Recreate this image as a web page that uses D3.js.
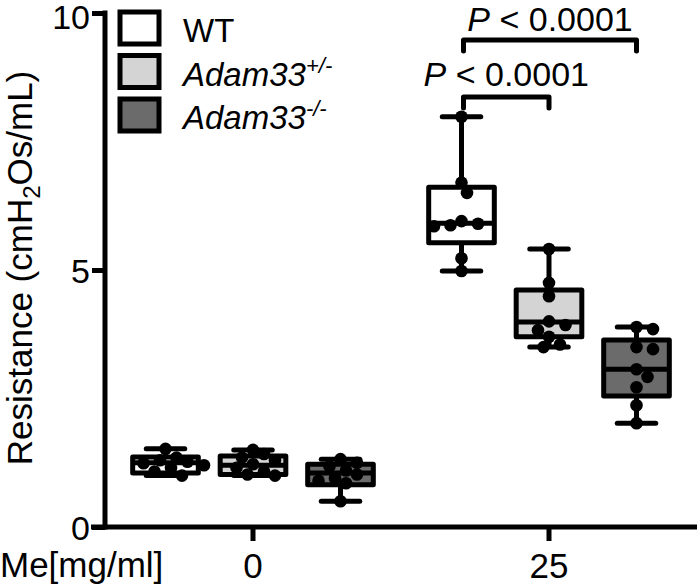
<!DOCTYPE html>
<html>
<head>
<meta charset="utf-8">
<script src="https://cdn.jsdelivr.net/npm/d3@7"></script>
<style>
  body { margin: 0; background: #fff; }
  text { font-family: "Liberation Sans", Arial, sans-serif; fill: #000; }
</style>
</head>
<body>
<div id="chart"></div>
<script>
// doses on the x axis and the three genotypes
var doses = ["0", "25"];
var groups = ["WT", "het", "ko"];
var groupFill = ["#ffffff", "#d4d4d4", "#6b6b6b"];
var yTicks = [0, 5, 10];

// box stats per dose: [min, q1, median, q3, max]
var boxWT  = [[1.00, 1.05, 1.25, 1.36, 1.52], [4.98, 5.53, 5.91, 6.61, 7.98]];
var boxHet = [[1.00, 1.02, 1.20, 1.38, 1.50], [3.50, 3.70, 3.99, 4.61, 5.41]];
var boxKO  = [[0.50, 0.82, 1.05, 1.22, 1.32], [2.02, 2.55, 3.07, 3.64, 3.89]];

// individual animals per dose
var ptsWT  = [[1.52, 1.35, 1.30, 1.27, 1.24, 1.20, 1.15, 1.08, 1.00],
              [7.98, 6.70, 6.50, 5.95, 5.90, 5.87, 5.85, 5.23, 4.98]];
var ptsHet = [[1.50, 1.42, 1.35, 1.30, 1.22, 1.15, 1.08, 1.02, 1.00],
              [5.41, 4.75, 4.49, 4.00, 3.93, 3.83, 3.70, 3.55, 3.50]];
var ptsKO  = [[1.32, 1.25, 1.18, 1.10, 1.02, 0.95, 0.90, 0.85, 0.50],
              [3.89, 3.50, 3.46, 3.07, 2.92, 2.72, 2.37, 2.02, 3.85]];

var boxes = [boxWT, boxHet, boxKO];
var points = [ptsWT, ptsHet, ptsKO];

var width = 697, height = 586;
var margin = {top: 13, right: 0, bottom: 59, left: 105};

var svg = d3.select("#chart").append("svg")
    .attr("width", width)
    .attr("height", height);

var x = d3.scaleBand().domain(doses).range([margin.left, width - margin.right]);
var xg = d3.scaleBand().domain(groups)
    .range([x.bandwidth() / 2 - 131.25, x.bandwidth() / 2 + 131.25]);
var y = d3.scaleLinear().domain([0, 10]).range([height - margin.bottom, margin.top]);

var boxW = xg.bandwidth() * 0.75;
var capW = xg.bandwidth() * 0.44;
var r = 6.3;

// y axis
var yAxis = svg.append("g")
    .attr("transform", "translate(" + margin.left + ",0)")
    .call(d3.axisLeft(y).tickValues(yTicks).tickSize(13).tickPadding(2));
yAxis.select(".domain").remove();
yAxis.append("line")
    .attr("x1", 0).attr("x2", 0)
    .attr("y1", y(10) - 2.5).attr("y2", y(0) + 2.5)
    .attr("stroke", "#000").attr("stroke-width", 5);
yAxis.selectAll(".tick line").attr("stroke-width", 5);
yAxis.selectAll(".tick text")
    .style("font-size", "34px")
    .attr("dy", "0.36em")
    .attr("font-family", "Liberation Sans, Arial, sans-serif");
yAxis.selectAll(".tick").filter(function(d) { return d === 10; })
    .select("text").attr("dy", "0.45em");

// x axis
var xAxis = svg.append("g")
    .attr("transform", "translate(0," + y(0) + ")")
    .call(d3.axisBottom(x).tickSize(14).tickPadding(12));
xAxis.select(".domain").remove();
xAxis.append("line")
    .attr("x1", 91).attr("x2", width)
    .attr("stroke", "#000").attr("stroke-width", 5);
xAxis.selectAll(".tick line").attr("stroke-width", 5);
xAxis.selectAll(".tick text")
    .style("font-size", "35px")
    .attr("font-family", "Liberation Sans, Arial, sans-serif");

svg.append("text")
    .attr("x", 0).attr("y", 577)
    .style("font-size", "35px")
    .text("Me[mg/ml]");

// y label
var yl = svg.append("text")
    .attr("transform", "translate(32," + ((y(0) + y(10)) / 2 - 2) + ") rotate(-90)")
    .attr("text-anchor", "middle")
    .style("font-size", "35px");
yl.append("tspan").text("Resistance (cmH");
yl.append("tspan").attr("dy", 8).style("font-size", "24px").text("2");
yl.append("tspan").attr("dy", -8).text("Os/mL)");

// simple beeswarm offsets so dots don't sit on top of each other
function swarm(vals, cx) {
  var placed = [];
  return vals.map(function(v) {
    var py = y(v), k = 0, px = cx;
    var offs = [0];
    for (var i = 1; i < 12; i++) { offs.push(i * 5.5, -i * 5.5); }
    for (k = 0; k < offs.length; k++) {
      px = cx + offs[k];
      var ok = placed.every(function(p) {
        return Math.hypot(p[0] - px, p[1] - py) >= 2 * r - 1;
      });
      if (ok) break;
    }
    placed.push([px, py]);
    return [px, py];
  });
}

doses.forEach(function(dose, di) {
  var gd = svg.append("g").attr("transform", "translate(" + x(dose) + ",0)");
  groups.forEach(function(grp, gi) {
    var s = boxes[gi][di];
    var cx = xg(grp) + xg.bandwidth() / 2;
    var g = gd.append("g");
    // whiskers
    g.append("line")
      .attr("x1", cx).attr("x2", cx)
      .attr("y1", y(s[0])).attr("y2", y(s[4]))
      .attr("stroke", "#000").attr("stroke-width", 5);
    [s[0], s[4]].forEach(function(v) {
      g.append("line")
        .attr("x1", cx - capW / 2).attr("x2", cx + capW / 2)
        .attr("y1", y(v)).attr("y2", y(v))
        .attr("stroke", "#000").attr("stroke-width", 5)
        .attr("stroke-linecap", "round");
    });
    // box
    g.append("rect")
      .attr("x", cx - boxW / 2).attr("width", boxW)
      .attr("y", y(s[3])).attr("height", y(s[1]) - y(s[3]))
      .attr("fill", groupFill[gi])
      .attr("stroke", "#000").attr("stroke-width", 5)
      .attr("stroke-linejoin", "round");
    g.append("line")
      .attr("x1", cx - boxW / 2).attr("x2", cx + boxW / 2)
      .attr("y1", y(s[2])).attr("y2", y(s[2]))
      .attr("stroke", "#000").attr("stroke-width", 5);
    // dots
    g.selectAll("circle").data(swarm(points[gi][di], cx)).enter()
      .append("circle")
      .attr("cx", function(d) { return d[0]; })
      .attr("cy", function(d) { return d[1]; })
      .attr("r", r)
      .attr("fill", "#000");
  });
});

// significance brackets
function center(dose, grp) { return x(dose) + xg(grp) + xg.bandwidth() / 2; }
var brackets = [
  {a: "WT", b: "het", yb: 97, ty: 86, label: "0.0001"},
  {a: "WT", b: "ko", yb: 40, ty: 31, label: "0.0001"}
];
brackets.forEach(function(b) {
  var x1 = center("25", b.a) + 2, x2 = center("25", b.b);
  svg.append("path")
    .attr("d", "M" + x1 + "," + (b.yb + 11) + "V" + b.yb + "H" + x2 + "V" + (b.yb + 11))
    .attr("fill", "none").attr("stroke", "#000").attr("stroke-width", 5)
    .attr("stroke-linecap", "round").attr("stroke-linejoin", "round");
  var t = svg.append("text")
    .attr("x", (x1 + x2) / 2).attr("y", b.ty)
    .attr("text-anchor", "middle")
    .style("font-size", "34px");
  t.append("tspan").style("font-style", "italic").text("P");
  t.append("tspan").text(" < " + b.label);
});

// legend
var legendLabels = [["WT", ""], ["Adam33", "+/-"], ["Adam33", "-/-"]];
var leg = svg.append("g").attr("transform", "translate(120,12)");
legendLabels.forEach(function(l, i) {
  var ly = i * 42;
  leg.append("rect")
    .attr("x", 0).attr("y", ly + i * 1.5)
    .attr("width", 39).attr("height", 32)
    .attr("fill", groupFill[i])
    .attr("stroke", "#000").attr("stroke-width", 5);
  var t = leg.append("text")
    .attr("x", 63).attr("y", ly + i * 1.5 + 30)
    .style("font-size", "33px");
  if (l[1] === "") {
    t.text(l[0]);
  } else {
    t.append("tspan").style("font-style", "italic").text(l[0]);
    t.append("tspan").attr("dy", -13).style("font-size", "22px").style("font-style", "italic").text(l[1]);
  }
});
</script>
</body>
</html>
